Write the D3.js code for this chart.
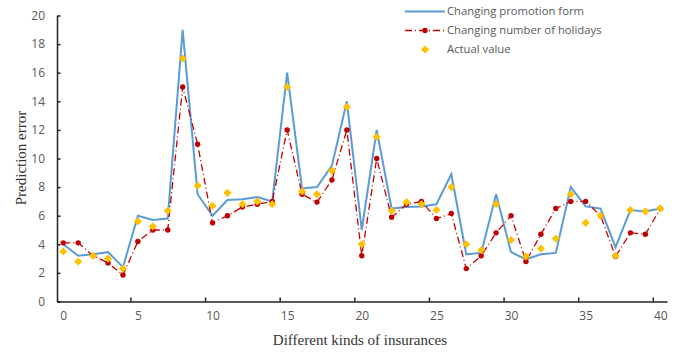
<!DOCTYPE html>
<html>
<head>
  <meta charset="utf-8">
  <script src="https://cdn.jsdelivr.net/npm/d3@7"></script>
  <style>
    body { margin: 0; background: #fff; }
  </style>
</head>
<body>
  <script>
    const w = 680;
    const h = 352;

    // data
    const insurances = d3.range(0, 41);
    const promotionForm = [4.0, 3.2, 3.3, 3.45, 2.4, 6.0, 5.7, 5.8, 19.0, 7.5,
      6.0, 7.1, 7.15, 7.3, 7.0, 16.0, 7.9, 8.0, 9.5, 14.0,
      5.0, 12.0, 6.5, 6.6, 6.65, 6.8, 8.9, 3.3, 3.4, 7.5,
      3.45, 2.95, 3.3, 3.4, 8.0, 6.65, 6.5, 3.8, 6.4, 6.3, 6.5];
    const holidays = [4.1, 4.1, 3.2, 2.7, 1.85, 4.2, 5.0, 5.0, 15.0, 11.0,
      5.5, 6.0, 6.6, 6.8, 7.0, 12.0, 7.5, 6.95, 8.5, 12.0,
      3.2, 10.0, 5.9, 6.8, 7.0, 5.8, 6.15, 2.3, 3.2, 4.8,
      6.0, 2.8, 4.7, 6.5, 7.0, 7.0, 6.0, 3.15, 4.8, 4.7, 6.5];
    const actual = [3.5, 2.8, 3.2, 3.0, 2.3, 5.6, 5.25, 6.35, 17.0, 8.1,
      6.7, 7.6, 6.8, 7.0, 6.8, 15.0, 7.7, 7.5, 9.15, 13.6,
      4.0, 11.5, 6.35, 6.95, 6.8, 6.4, 8.0, 4.0, 3.6, 6.8,
      4.3, 3.15, 3.7, 4.4, 7.5, 5.5, 6.0, 3.2, 6.4, 6.3, 6.5];
    const xLabels = [0, 5, 10, 15, 20, 25, 30, 35, 40];
    const xTickMarks = [4.5, 9.5, 14.5, 19.5, 24.5, 29.5, 34.5, 39.5];
    const yLabels = [0, 2, 4, 6, 8, 10, 12, 14, 16, 18, 20];
    const legendNames = ["Changing promotion form", "Changing number of holidays", "Actual value"];

    const blue = "#5b9bd5";
    const red = "#c00000";
    const gold = "#ffc000";
    const grey = "#595959";

    const x = d3.scaleLinear().domain([-0.42, 40.45]).range([57, 667]);
    const y = d3.scaleLinear().domain([0, 20]).range([301.5, 15.5]);

    const svg = d3.select("body").append("svg")
      .attr("width", w)
      .attr("height", h);

    // x axis: line + tick marks between labels
    const xAxisG = svg.append("g").attr("transform", "translate(0," + y(0) + ")");
    xAxisG.call(d3.axisBottom(x).tickValues(xTickMarks).tickSizeInner(-4).tickSizeOuter(0).tickFormat(""));
    xAxisG.select(".domain").attr("stroke", "#222").attr("stroke-width", 1.5);
    xAxisG.selectAll(".tick line").attr("stroke", "#222").attr("stroke-width", 1.5);

    const xLabelG = svg.append("g").attr("transform", "translate(0," + y(0) + ")");
    xLabelG.call(d3.axisBottom(x).tickValues(xLabels).tickSize(0).tickPadding(10));
    xLabelG.select(".domain").remove();
    xLabelG.selectAll("text")
      .attr("fill", grey)
      .style("font-family", "'Open Sans', sans-serif")
      .style("font-size", "12px");

    // y axis
    const yAxisG = svg.append("g").attr("transform", "translate(" + x(-0.42) + ",0)");
    yAxisG.call(d3.axisLeft(y).tickValues(yLabels).tickSizeInner(-3.5).tickSizeOuter(0).tickPadding(12));
    yAxisG.select(".domain").attr("stroke", "#222").attr("stroke-width", 1.5);
    yAxisG.selectAll(".tick line").attr("stroke", "#222").attr("stroke-width", 1.5);
    yAxisG.selectAll("text")
      .attr("fill", grey)
      .style("font-family", "'Open Sans', sans-serif")
      .style("font-size", "12px");

    // axis titles
    svg.append("text")
      .attr("x", 360)
      .attr("y", 345)
      .attr("text-anchor", "middle")
      .attr("fill", "#333")
      .style("font-family", "'Liberation Serif', serif")
      .style("font-size", "15px")
      .text("Different kinds of insurances");

    svg.append("text")
      .attr("transform", "translate(26,158) rotate(-90)")
      .attr("text-anchor", "middle")
      .attr("fill", "#333")
      .style("font-family", "'Liberation Serif', serif")
      .style("font-size", "15px")
      .text("Prediction error");

    // lines
    const line = d3.line()
      .x(function (d, i) { return x(insurances[i]); })
      .y(function (d) { return y(d); });

    svg.append("path")
      .datum(promotionForm)
      .attr("d", line)
      .attr("fill", "none")
      .attr("stroke", blue)
      .attr("stroke-width", 2);

    svg.append("path")
      .datum(holidays)
      .attr("d", line)
      .attr("fill", "none")
      .attr("stroke", red)
      .attr("stroke-width", 1.3)
      .attr("stroke-dasharray", "7,3,1,3");

    svg.selectAll("circle.hol")
      .data(holidays)
      .enter()
      .append("circle")
      .attr("class", "hol")
      .attr("cx", function (d, i) { return x(insurances[i]); })
      .attr("cy", function (d) { return y(d); })
      .attr("r", 2.7)
      .attr("fill", red);

    const diamond = d3.symbol().type(d3.symbolDiamond2).size(42);
    svg.selectAll("path.act")
      .data(actual)
      .enter()
      .append("path")
      .attr("class", "act")
      .attr("d", diamond)
      .attr("transform", function (d, i) { return "translate(" + x(insurances[i]) + "," + y(d) + ")"; })
      .attr("fill", gold);

    // legend
    const legend = svg.append("g");
    const rowY = [11.5, 30.5, 49.5];
    legendNames.forEach(function (name, i) {
      const g = legend.append("g").attr("transform", "translate(0," + rowY[i] + ")");
      if (i === 0) {
        g.append("line").attr("x1", 405).attr("x2", 445).attr("y1", 0).attr("y2", 0)
          .attr("stroke", blue).attr("stroke-width", 2);
      } else if (i === 1) {
        g.append("line").attr("x1", 405).attr("x2", 445).attr("y1", 0).attr("y2", 0)
          .attr("stroke", red).attr("stroke-width", 1.3).attr("stroke-dasharray", "7,3,1,3");
        g.append("circle").attr("cx", 425).attr("cy", 0).attr("r", 2.7).attr("fill", red);
      } else {
        g.append("path").attr("d", diamond).attr("transform", "translate(425,0)").attr("fill", gold);
      }
      g.append("text")
        .attr("x", 447)
        .attr("y", 0)
        .attr("dy", "0.35em")
        .attr("fill", grey)
        .style("font-family", "'Open Sans', sans-serif")
        .style("font-size", "11.3px")
        .text(name);
    });
  </script>
</body>
</html>
